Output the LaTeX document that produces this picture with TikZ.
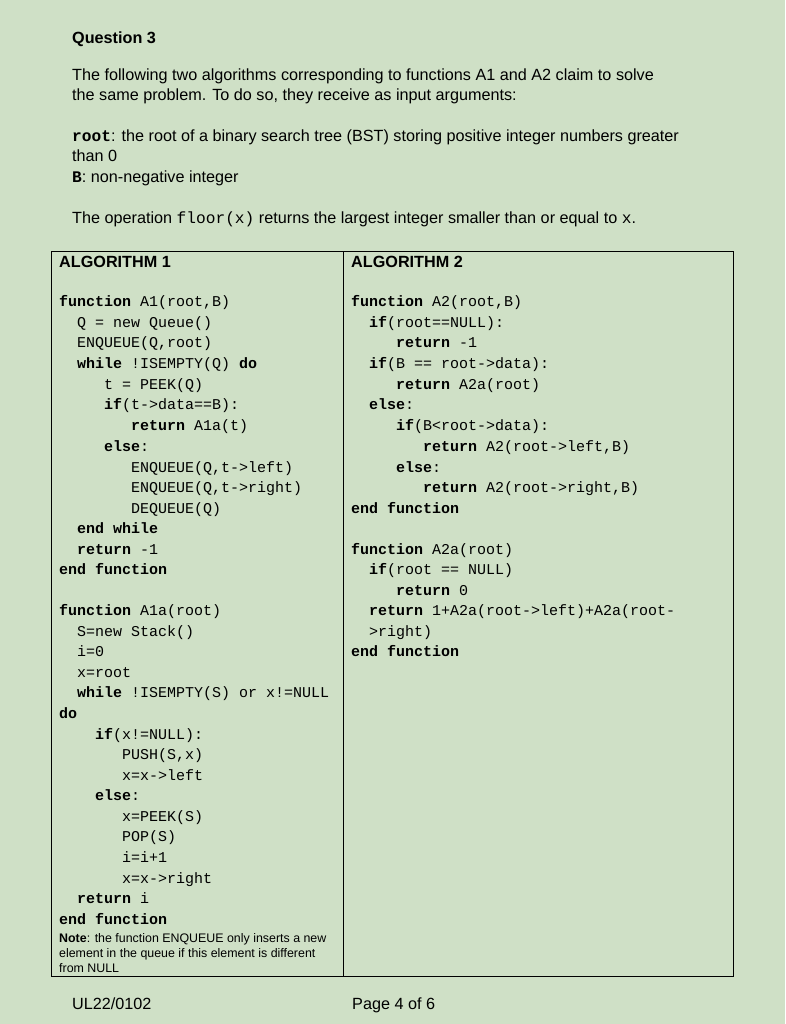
\documentclass[tikz,border=0pt]{standalone}
\usepackage{fontspec}
\setmainfont{Liberation Sans}
\setmonofont{Liberation Mono}
\definecolor{bg}{RGB}{207,224,198}
\newcounter{ln}
\newcommand{\kw}[1]{\textbf{#1}}
\newcommand{\cl}[3]{\stepcounter{ln}\node[code] (c\theln) at (#1,#2+5) {#3};}
\newcommand{\tl}[3]{\stepcounter{ln}\node[txt] (t\theln) at (#1,#2+5) {#3};}
\begin{document}
\begin{tikzpicture}[x=1pt,y=-1pt,
  code/.style={anchor=base west,inner sep=0pt,font=\ttfamily\fontsize{15}{18}\selectfont},
  txt/.style={anchor=base west,inner sep=0pt,font=\fontsize{16.2}{19}\selectfont},
  note/.style={anchor=base west,inner sep=0pt,font=\fontsize{12.4}{14}\selectfont}]
\fill[bg] (0,0) rectangle (785,1024);
\useasboundingbox (0,0) rectangle (785,1024);
\node[txt] (q) at (72,44) {\textbf{Question 3}};
\tl{72}{76}{The following two algorithms corresponding to functions A1 and A2 claim to solve}
\tl{72}{96}{the same problem. To do so, they receive as input arguments:}
\tl{72}{137}{\texttt{\textbf{root}}: the root of a binary search tree (BST) storing positive integer numbers greater}
\tl{72}{157}{than 0}
\tl{72}{178}{\texttt{\textbf{B}}: non-negative integer}
\tl{72}{219}{The operation \texttt{floor(x)} returns the largest integer smaller than or equal to \texttt{x}.}
\draw[thick] (51,251) rectangle (733,976);
\draw[thick] (343,251) -- (343,976);
\tl{59}{262}{\textbf{ALGORITHM 1}}
\tl{351}{262}{\textbf{ALGORITHM 2}}
% left
\cl{59}{301}{\kw{function} A1(root,B)}
\cl{77}{322}{Q = new Queue()}
\cl{77}{342}{ENQUEUE(Q,root)}
\cl{77}{363}{\kw{while} !ISEMPTY(Q) \kw{do}}
\cl{104}{384}{t = PEEK(Q)}
\cl{104}{404}{\kw{if}(t->data==B):}
\cl{131}{425}{\kw{return} A1a(t)}
\cl{104}{446}{\kw{else}:}
\cl{131}{467}{ENQUEUE(Q,t->left)}
\cl{131}{487}{ENQUEUE(Q,t->right)}
\cl{131}{508}{DEQUEUE(Q)}
\cl{77}{528}{\kw{end while}}
\cl{77}{549}{\kw{return} -1}
\cl{59}{569}{\kw{end function}}
\cl{59}{610}{\kw{function} A1a(root)}
\cl{77}{631}{S=new Stack()}
\cl{77}{651}{i=0}
\cl{77}{672}{x=root}
\cl{77}{692}{\kw{while} !ISEMPTY(S) or x!=NULL}
\cl{59}{713}{\kw{do}}
\cl{95}{734}{\kw{if}(x!=NULL):}
\cl{122}{754}{PUSH(S,x)}
\cl{122}{775}{x=x->left}
\cl{95}{795}{\kw{else}:}
\cl{122}{816}{x=PEEK(S)}
\cl{122}{836}{POP(S)}
\cl{122}{857}{i=i+1}
\cl{122}{878}{x=x->right}
\cl{77}{898}{\kw{return} i}
\cl{59}{919}{\kw{end function}}
\node[note] (n1) at (59,942) {\textbf{Note}: the function ENQUEUE only inserts a new};
\node[note] (n2) at (59,957) {element in the queue if this element is different};
\node[note] (n3) at (59,972) {from NULL};
% right
\cl{351}{301}{\kw{function} A2(root,B)}
\cl{369}{322}{\kw{if}(root==NULL):}
\cl{396}{342}{\kw{return} -1}
\cl{369}{363}{\kw{if}(B == root->data):}
\cl{396}{384}{\kw{return} A2a(root)}
\cl{369}{404}{\kw{else}:}
\cl{396}{425}{\kw{if}(B<root->data):}
\cl{423}{446}{\kw{return} A2(root->left,B)}
\cl{396}{467}{\kw{else}:}
\cl{423}{487}{\kw{return} A2(root->right,B)}
\cl{351}{508}{\kw{end function}}
\cl{351}{549}{\kw{function} A2a(root)}
\cl{369}{569}{\kw{if}(root == NULL)}
\cl{396}{590}{\kw{return} 0}
\cl{369}{610}{\kw{return} 1+A2a(root->left)+A2a(root-}
\cl{369}{631}{>right)}
\cl{351}{651}{\kw{end function}}
\tl{72}{1004}{UL22/0102}
\tl{352}{1004}{Page 4 of 6}
\end{tikzpicture}
\end{document}
